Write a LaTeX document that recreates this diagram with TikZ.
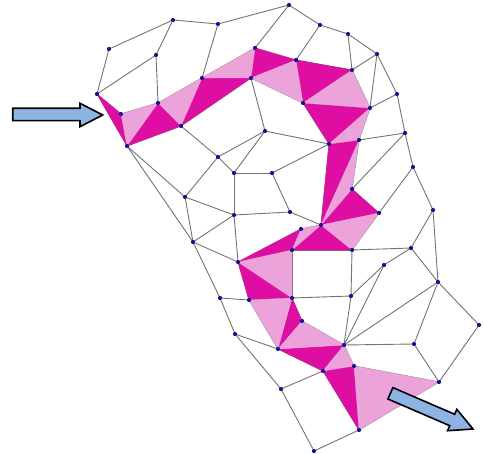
\documentclass[tikz,border=0pt]{standalone}
\begin{document}
\begin{tikzpicture}[x=1pt,y=-1pt,
  edge/.style={draw={rgb,255:red,115;green,115;blue,115},line width=0.9pt},
  lightt/.style={fill={rgb,255:red,236;green,163;blue,218},draw={rgb,255:red,236;green,163;blue,218},line width=0.3pt},
  darkt/.style={fill={rgb,255:red,222;green,14;blue,162},draw={rgb,255:red,222;green,14;blue,162},line width=0.3pt},
  dotv/.style={fill={rgb,255:red,20;green,20;blue,150}},
  blockarrow/.style={fill={rgb,255:red,141;green,180;blue,226},draw=black,line width=1.6pt,line join=miter}]
\useasboundingbox (0,0) rectangle (484,454);
% vertices
\coordinate (a1) at (109,49);  \coordinate (a2) at (173,20);  \coordinate (a3) at (218,24);
\coordinate (a4) at (289,5);   \coordinate (a5) at (320,25);  \coordinate (a6) at (348,34);
\coordinate (a7) at (377,54);
\coordinate (b1) at (97,94);   \coordinate (b2) at (156,55);  \coordinate (b3) at (202,78);
\coordinate (b4) at (255,48);  \coordinate (b5) at (296,60);  \coordinate (b6) at (352,70);
\coordinate (c1) at (121,114); \coordinate (c2) at (158,103); \coordinate (c3) at (251,78);
\coordinate (c4) at (303,103); \coordinate (c5) at (370,108); \coordinate (c6) at (397,94);
\coordinate (d1) at (127,146); \coordinate (d2) at (181,126); \coordinate (d3) at (218,157);
\coordinate (d4) at (265,131); \coordinate (d5) at (329,144); \coordinate (d6) at (359,140);
\coordinate (d7) at (405,133);
\coordinate (e1) at (234,173); \coordinate (e2) at (272,173); \coordinate (e3) at (352,189);
\coordinate (e4) at (413,167);
\coordinate (f1) at (185,197); \coordinate (f2) at (234,215); \coordinate (f3) at (290,212);
\coordinate (f4) at (301,229); \coordinate (f5) at (321,225); \coordinate (f6) at (379,213);
\coordinate (f7) at (433,210);
\coordinate (g1) at (193,242); \coordinate (g2) at (238,262); \coordinate (g3) at (292,250);
\coordinate (g4) at (352,250); \coordinate (g5) at (411,248); \coordinate (g6) at (384,265);
\coordinate (h1) at (220,298); \coordinate (h2) at (249,300); \coordinate (h3) at (292,298);
\coordinate (h4) at (351,296); \coordinate (h5) at (438,282);
\coordinate (i1) at (302,321); \coordinate (i2) at (235,334); \coordinate (i3) at (278,349);
\coordinate (i4) at (344,345); \coordinate (i5) at (414,344); \coordinate (i6) at (479,325);
\coordinate (j1) at (323,371); \coordinate (j2) at (354,366); \coordinate (j3) at (281,389);
\coordinate (j4) at (439,382); \coordinate (j5) at (359,430); \coordinate (j6) at (314,451);
% mesh edges
\foreach \p/\q in {a1/a2,a2/a3,a3/a4,a4/a5,a5/a6,a6/a7,
  a1/b1,a2/b2,b2/b1,b2/c2,a3/b3,a4/b4,a5/b5,a6/b6,a7/b6,a7/c5,a7/c6,c6/c5,c6/d7,
  b1/c1,b1/d1,c1/c2,c1/d1,c2/d1,c2/b3,c2/d2,b3/d2,d1/d2,b3/b4,b3/c3,b4/c3,b4/b5,
  c3/b5,c3/d2,c3/c4,b5/c4,b5/b6,b6/c4,b6/c5,c4/c5,c4/d5,c5/d5,c5/d6,d5/d6,d6/d7,
  c3/d4,d4/d3,d2/d3,d3/e1,d4/e1,d3/f1,d1/f1,d1/g1,f1/g1,f1/f2,e1/f2,e1/e2,e2/f3,
  e2/d5,d4/d5,f2/f3,f3/f5,f2/g1,f2/g2,g1/g2,g1/h1,h1/h2,h1/i2,g2/h2,g2/f4,g2/g3,
  f4/f5,f4/g3,f5/g3,f5/g4,f5/d5,f5/d6,f5/e3,f5/f6,d6/e3,e3/f6,e3/d7,d7/e4,e4/f6,
  e4/f7,f6/g4,g3/g4,g3/h3,g2/h3,h2/h3,h2/i3,h3/i3,h3/i1,i1/i3,i1/i4,h3/h4,g4/h4,
  g4/g5,g5/g6,g5/f7,g5/h5,f7/h5,g6/h4,g6/i4,h4/i4,h5/i4,h5/i5,h5/i6,i4/i5,i5/j4,
  i6/j4,i4/j2,i4/j1,i3/j1,i2/i3,i2/j3,j3/j1,j3/j6,j6/j5,j5/j1,j5/j2,j2/j1,j2/j4,j4/j5}
  {\draw[edge] (\p) -- (\q);}
% strip of triangles
\foreach \p/\q/\r in {b1/c1/d1,c2/d2/d1,b3/c3/d2,b4/b5/c3,b5/b6/c4,c4/c5/d5,
  d5/d6/f5,e3/f6/f5,f5/g4/g3,g2/f4/g3,g2/h3/h2,h3/i1/i3,i3/i4/j1,j1/j2/j5}
  {\path[darkt] (\p) -- (\q) -- (\r) -- cycle;}
\foreach \p/\q/\r in {c1/c2/d1,c2/b3/d2,b3/b4/c3,c3/b5/c4,c4/b6/c5,d5/c5/d6,
  d6/e3/f5,f5/f6/g4,f4/f5/g3,g2/g3/h3,h2/h3/i3,i1/i4/i3,i4/j2/j1,j2/j4/j5}
  {\path[lightt] (\p) -- (\q) -- (\r) -- cycle;}
% vertex dots
\foreach \v in {a1,a2,a3,a4,a5,a6,a7,b1,b2,b3,b4,b5,b6,c1,c2,c3,c4,c5,c6,
  d1,d2,d3,d4,d5,d6,d7,e1,e2,e3,e4,f1,f2,f3,f4,f5,f6,f7,g1,g2,g3,g4,g5,g6,
  h1,h2,h3,h4,h5,i1,i2,i3,i4,i5,i6,j1,j2,j3,j4,j5,j6}
  {\fill[dotv] (\v) circle (2.1);}
% entry arrow
\draw[blockarrow] (12.7,108.3) -- (80,108.3) -- (80,103.3) -- (102.7,115)
  -- (80,126.7) -- (80,120.7) -- (12.7,120.7) -- cycle;
% exit arrow
\draw[blockarrow] (392.9,387.6) -- (454.7,414.3) -- (456.8,409.3) -- (473,429)
  -- (447.6,430.7) -- (449.7,425.7) -- (387.9,399.0) -- cycle;
\end{tikzpicture}
\end{document}
